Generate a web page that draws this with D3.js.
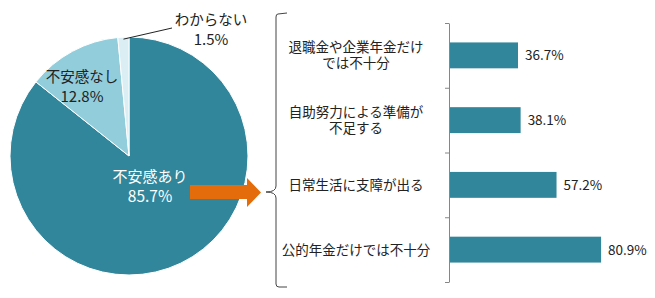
<!DOCTYPE html>
<html>
<head>
<meta charset="utf-8">
<script src="https://cdn.jsdelivr.net/npm/d3@7"></script>
<style>
  body { margin: 0; background: #fff; }
  text { font-family: "Noto Sans CJK JP", "Noto Sans", sans-serif; }
</style>
</head>
<body>
<div id="chart"></div>
<script>
var w = 655;
var h = 298;

// pie data
var pieLabels = ["不安感あり", "不安感なし", "わからない"];
var pieValues = [85.7, 12.8, 1.5];
var pieColors = ["#31869b", "#92cddc", "#daeef3"];

// bar data (reasons)
var barLabels = [
  ["退職金や企業年金だけ", "では不十分"],
  ["自助努力による準備が", "不足する"],
  ["日常生活に支障が出る"],
  ["公的年金だけでは不十分"]
];
var barValues = [36.7, 38.1, 57.2, 80.9];

var svg = d3.select("#chart").append("svg").attr("width", w).attr("height", h);

// Pie
var cx = 129, cy = 156, r = 119;
var pie = d3.pie().sort(null).value((d) => d);
var arc = d3.arc().innerRadius(0).outerRadius(r);
var arcs = pie(pieValues);

var pg = svg.append("g").attr("transform", "translate(" + cx + "," + cy + ")");
pg.selectAll("path")
  .data(arcs)
  .enter()
  .append("path")
  .attr("d", arc)
  .attr("fill", (d, i) => pieColors[i])
  .attr("stroke", "#fff")
  .attr("stroke-width", 1);

// pie labels (positions tweaked by hand)
var pieLabelPos = [[150, 182, "#fff", 15], [82, 82, "#222", 14.5], [211, 25, "#222", 14.5]];
pieLabelPos.forEach(function (p, i) {
  var t = svg.append("text")
    .attr("x", p[0]).attr("y", p[1])
    .attr("text-anchor", "middle")
    .attr("font-size", p[3] + "px")
    .attr("fill", p[2]);
  t.append("tspan").attr("x", p[0]).text(pieLabels[i]);
  t.append("tspan").attr("x", p[0]).attr("dy", 20).attr("font-size", (p[3] + 0.5) + "px")
    .text(pieValues[i].toFixed(1) + "%");
});

// leader line for the small slice
var small = arcs[2];
var mid = (small.startAngle + small.endAngle) / 2;
svg.append("line")
  .attr("x1", cx + Math.sin(mid) * (r - 2)).attr("y1", cy - Math.cos(mid) * (r - 2))
  .attr("x2", 172).attr("y2", 28)
  .attr("stroke", "#222").attr("stroke-width", 1);

// Orange arrow
svg.append("path")
  .attr("d", "M190,185 L247,185 L247,178 L261,192.5 L247,207 L247,199 L190,199 Z")
  .attr("fill", "#e46c0a");

// Bracket
svg.append("path")
  .attr("d", "M287,13 L278,14 Q276,14 276,17 L276,186 Q276,192 266,192 Q276,192 276,198 L276,284 Q276,287 279,287 L287,287")
  .attr("fill", "none")
  .attr("stroke", "#444")
  .attr("stroke-width", 1);

// Bars
var axisX = 449;
var xScale = d3.scaleLinear().domain([0, 100]).range([axisX, 637]);
var yScale = d3.scaleBand()
  .domain(barValues.map((d, i) => i))
  .range([23, 282])
  .paddingInner(0.6)
  .paddingOuter(0.3);

svg.selectAll("rect.bar")
  .data(barValues)
  .enter()
  .append("rect")
  .attr("class", "bar")
  .attr("x", xScale(0))
  .attr("y", (d, i) => yScale(i))
  .attr("width", (d) => xScale(d) - xScale(0))
  .attr("height", yScale.bandwidth())
  .attr("fill", "#31869b");

svg.selectAll("text.val")
  .data(barValues)
  .enter()
  .append("text")
  .attr("class", "val")
  .attr("x", (d) => xScale(d) + 7)
  .attr("y", (d, i) => yScale(i) + yScale.bandwidth() / 2 + 5)
  .attr("font-size", "13.5px")
  .attr("fill", "#222")
  .text((d) => d.toFixed(1) + "%");

// category axis with ticks between bands
var tickScale = d3.scaleLinear().domain([0, barValues.length]).range([23, 282]);
var yAxis = d3.axisLeft(tickScale)
  .tickValues(d3.range(barValues.length + 1))
  .tickSize(4)
  .tickSizeOuter(0)
  .tickFormat("");
var ag = svg.append("g")
  .attr("transform", "translate(" + axisX + ",0)")
  .call(yAxis);
ag.selectAll("path, line").attr("stroke", "#868686");

// category labels
barLabels.forEach(function (lines, i) {
  var cyb = yScale(i) + yScale.bandwidth() / 2;
  var t = svg.append("text")
    .attr("text-anchor", "middle")
    .attr("font-size", "13.5px")
    .attr("fill", "#222");
  lines.forEach(function (s, j) {
    t.append("tspan")
      .attr("x", 356)
      .attr("y", cyb + 5 + (j - (lines.length - 1) / 2) * 16)
      .text(s);
  });
});
</script>
</body>
</html>
